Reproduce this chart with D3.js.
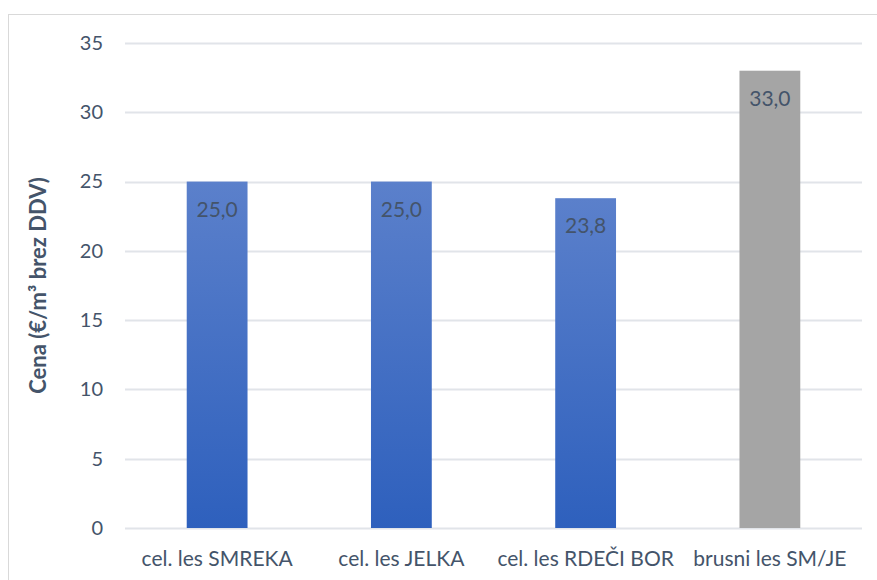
<!DOCTYPE html>
<html>
<head>
<meta charset="utf-8">
<script src="https://cdn.jsdelivr.net/npm/d3@7"></script>
<style>
  body { margin: 0; background: #fff; }
  text { font-family: Lato, "Open Sans", sans-serif; }
</style>
</head>
<body>
<div id="chart"></div>
<script>
// data
var categories = ["cel. les SMREKA", "cel. les JELKA", "cel. les RDEČI BOR", "brusni les SM/JE"];
var prices = [25.0, 25.0, 23.8, 33.0];
var yTicks = [0, 5, 10, 15, 20, 25, 30, 35];

var W = 877, H = 580;
var margin = {top: 43, right: 15, bottom: 52, left: 125},
    width = W - margin.left - margin.right,
    height = H - margin.top - margin.bottom;

var svg = d3.select("#chart")
    .append("svg")
      .attr("width", W)
      .attr("height", H);

// chart frame
svg.append("rect")
    .attr("x", 8.5).attr("y", 14.5)
    .attr("width", W).attr("height", H)
    .attr("fill", "none")
    .attr("stroke", "#d9d9d9")
    .attr("stroke-width", 1);

var defs = svg.append("defs");
var grad = defs.append("linearGradient")
    .attr("id", "blueGrad")
    .attr("x1", 0).attr("y1", 0).attr("x2", 0).attr("y2", 1);
grad.append("stop").attr("offset", "0%").attr("stop-color", "#5b80cb");
grad.append("stop").attr("offset", "100%").attr("stop-color", "#2e60bd");

var g = svg.append("g")
    .attr("transform", "translate(" + margin.left + "," + margin.top + ")");

var x = d3.scaleBand()
    .domain(categories)
    .range([0, width])
    .paddingInner(0.67)
    .paddingOuter(0.335);

var y = d3.scaleLinear()
    .domain([0, 35])
    .range([height, 0]);

// gridlines
g.append("g")
    .selectAll("line")
    .data(yTicks)
    .join("line")
      .attr("x1", 0)
      .attr("x2", width)
      .attr("y1", d => Math.round(y(d)) + 0.5)
      .attr("y2", d => Math.round(y(d)) + 0.5)
      .attr("stroke", "#e1e4e9")
      .attr("stroke-width", 2);

// y axis
g.append("g")
    .call(d3.axisLeft(y).tickValues(yTicks).tickSize(0).tickPadding(22))
    .call(a => a.select(".domain").remove())
    .selectAll("text")
      .style("font-size", "20px")
      .style("fill", "#44546a");

// x axis
g.append("g")
    .attr("transform", "translate(0," + height + ")")
    .call(d3.axisBottom(x).tickSize(0).tickPadding(23))
    .call(a => a.select(".domain").remove())
    .selectAll("text")
      .style("font-size", "21px")
      .style("fill", "#44546a");

// bars
g.selectAll(".bar")
    .data(prices)
    .join("rect")
      .attr("class", "bar")
      .attr("x", (d, i) => x(categories[i]))
      .attr("y", d => y(d))
      .attr("width", x.bandwidth())
      .attr("height", d => height - y(d))
      .attr("fill", (d, i) => i === 3 ? "#a5a5a5" : "url(#blueGrad)");

// value labels
g.selectAll(".lbl")
    .data(prices)
    .join("text")
      .attr("class", "lbl")
      .attr("x", (d, i) => x(categories[i]) + x.bandwidth() / 2)
      .attr("y", d => y(d) + 35)
      .attr("text-anchor", "middle")
      .style("font-size", "21px")
      .style("fill", "#44546a")
      .text(d => d.toFixed(1).replace(".", ","));

// y axis title
svg.append("text")
    .attr("transform", "translate(46," + (margin.top + height / 2) + ") rotate(-90)")
    .attr("text-anchor", "middle")
    .style("font-size", "22px")
    .style("font-weight", "bold")
    .style("fill", "#44546a")
    .text("Cena (€/m³ brez DDV)");
</script>
</body>
</html>
